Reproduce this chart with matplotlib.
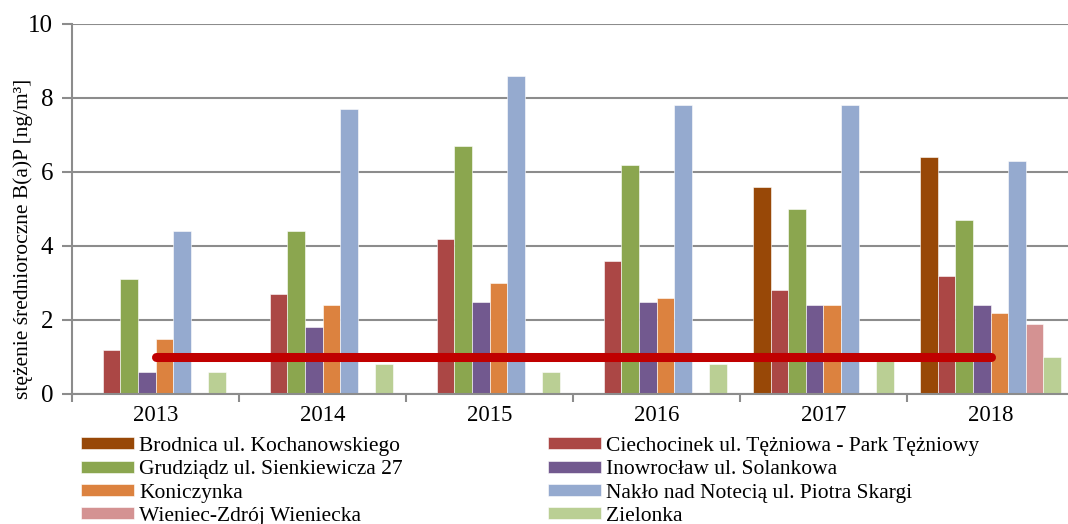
import numpy as np
import matplotlib.pyplot as plt

plt.rcParams['font.family'] = ['Liberation Serif', 'DejaVu Serif']

years = ['2013', '2014', '2015', '2016', '2017', '2018']
stations = ['Brodnica ul. Kochanowskiego',
            'Ciechocinek ul. Tężniowa - Park Tężniowy',
            'Grudziądz ul. Sienkiewicza 27',
            'Inowrocław ul. Solankowa',
            'Koniczynka',
            'Nakło nad Notecią ul. Piotra Skargi',
            'Wieniec-Zdrój Wieniecka',
            'Zielonka']
colors = ['#984807', '#AB4745', '#8BA64F', '#72598F',
          '#DC823F', '#95AACF', '#D49292', '#BACF94']

nan = np.nan
brodnica = [nan, nan, nan, nan, 5.6, 6.4]
ciechocinek = [1.2, 2.7, 4.2, 3.6, 2.8, 3.2]
grudziadz = [3.1, 4.4, 6.7, 6.2, 5.0, 4.7]
inowroclaw = [0.6, 1.8, 2.5, 2.5, 2.4, 2.4]
koniczynka = [1.5, 2.4, 3.0, 2.6, 2.4, 2.2]
naklo = [4.4, 7.7, 8.6, 7.8, 7.8, 6.3]
wieniec = [nan, nan, nan, nan, nan, 1.9]
zielonka = [0.6, 0.8, 0.6, 0.8, 0.9, 1.0]
series = [brodnica, ciechocinek, grudziadz, inowroclaw,
          koniczynka, naklo, wieniec, zielonka]
target = [1, 1, 1, 1, 1, 1]

fig = plt.figure(figsize=(10.68, 5.24), dpi=100)
ax = fig.add_axes([72/1068, 1-394/524, 1002/1068, 370/524])

x = np.arange(len(years))
w = 1/9.5
handles = []
for k, vals in enumerate(series):
    b = ax.bar(x + (k - 3.5)*w, vals, w, color=colors[k],
               edgecolor='white', linewidth=0.4, zorder=2)
    handles.append(b)

# poziom docelowy
ax.plot(x, target, color='#C00000', lw=6.5, solid_capstyle='round', zorder=3)

ax.set_xlim(-0.5, 5.5)
ax.set_ylim(0, 10)
ax.set_yticks([0, 2, 4, 6, 8, 10])
ax.yaxis.grid(True, color='#8C8C8C', lw=1.5, zorder=0)
ax.set_axisbelow(True)
ax.set_xticks(x)
ax.set_xticklabels(years)
ax.set_xticks(np.arange(-0.5, 6, 1), minor=True)
ax.tick_params(axis='x', which='major', length=0, labelsize=16.5, pad=8)
ax.tick_params(axis='x', which='minor', length=6, width=1.5, color='#8C8C8C')
ax.tick_params(axis='y', length=7, width=1.5, color='#8C8C8C', labelsize=18, pad=6.5)
for s in ['top', 'right']:
    ax.spines[s].set_visible(False)
for s in ['left', 'bottom']:
    ax.spines[s].set_color('#8C8C8C')
    ax.spines[s].set_linewidth(1.5)
ax.set_ylabel('stężenie średnioroczne B(a)P [ng/m³]', fontsize=15.5)
ax.yaxis.set_label_coords(-0.039, 0.42)

leg_kw = dict(loc='upper left', frameon=False, fontsize=15.5, borderpad=0,
              borderaxespad=0, handlelength=2.45, handleheight=0.5,
              handletextpad=0.25, labelspacing=0.2)
left_idx = [0, 2, 4, 6]
right_idx = [1, 3, 5, 7]
fig.legend([handles[i] for i in left_idx], [stations[i] for i in left_idx],
           bbox_to_anchor=(81/1068, 1-437/524), **leg_kw)
fig.legend([handles[i] for i in right_idx], [stations[i] for i in right_idx],
           bbox_to_anchor=(548/1068, 1-437/524), **leg_kw)

fig.savefig('out.png', dpi=100)
